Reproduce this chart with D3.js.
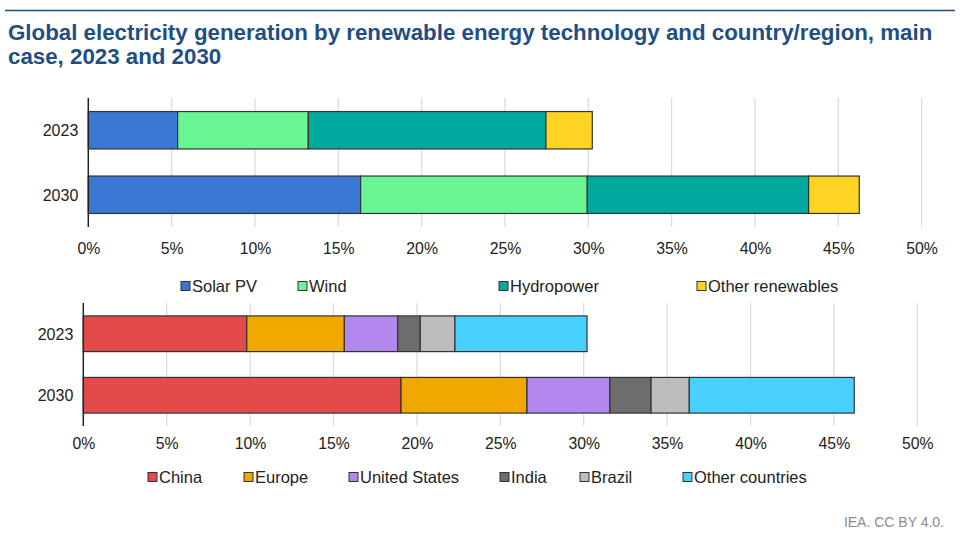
<!DOCTYPE html>
<html><head><meta charset="utf-8">
<script src="https://cdn.jsdelivr.net/npm/d3@7"></script>
<style>body{margin:0;background:#fff;}svg{display:block;font-family:"Liberation Sans",Arial,sans-serif;}</style>
</head><body><svg id="c" width="960" height="537"></svg>
<script>
const years = ["2023", "2030"];
const techSeries = ["Solar PV", "Wind", "Hydropower", "Other renewables"];
const techColors = ["#3a78d4", "#6af594", "#00a99d", "#fdd324"];
const techValues = {
  "Solar PV": [5.36, 16.34],
  "Wind": [7.84, 13.6],
  "Hydropower": [14.26, 13.28],
  "Other renewables": [2.78, 3.04]
};
const regionSeries = ["China", "Europe", "United States", "India", "Brazil", "Other countries"];
const regionColors = ["#e34a4a", "#f0a800", "#b287ee", "#6d6d6d", "#bdbdbd", "#48d1ff"];
const regionValues = {
  "China": [9.8, 19.05],
  "Europe": [5.85, 7.55],
  "United States": [3.2, 4.97],
  "India": [1.35, 2.47],
  "Brazil": [2.08, 2.29],
  "Other countries": [7.92, 9.89]
};
const xTicks = [0, 5, 10, 15, 20, 25, 30, 35, 40, 45, 50];

const svg = d3.select("#c");
svg.append("line").attr("x1", 5).attr("x2", 955).attr("y1", 10.5).attr("y2", 10.5)
  .attr("stroke", "#1f4e79").attr("stroke-width", 1.5);
const title = svg.append("text").attr("fill", "#1f4e85").attr("font-weight", "bold").attr("font-size", 22.3);
title.append("tspan").attr("x", 8).attr("y", 40).text("Global electricity generation by renewable energy technology and country/region, main");
title.append("tspan").attr("x", 8).attr("y", 64).text("case, 2023 and 2030");
svg.append("text").attr("x", 944).attr("y", 527).attr("text-anchor", "end").attr("font-size", 14)
  .attr("fill", "#8c8c8c").text("IEA. CC BY 4.0.");

function panel(cfg) {
  const x = d3.scaleLinear().domain([0, 50]).range([cfg.x0, cfg.x1]);
  const y = d3.scaleBand().domain(years).range([cfg.yTop, cfg.yBot]).paddingInner(0.42).paddingOuter(0.21);
  const g = svg.append("g");
  g.selectAll("line.grid").data(xTicks.slice(1)).join("line")
    .attr("x1", d => x(d)).attr("x2", d => x(d)).attr("y1", cfg.yTop).attr("y2", cfg.yBot)
    .attr("stroke", "#dcdcdc").attr("stroke-width", 1.3);
  const stacked = d3.stack().keys(cfg.series).value((d, k) => cfg.values[k][d])(years.map((_, i) => i));
  stacked.forEach((layer, li) => {
    g.selectAll(null).data(layer).join("rect")
      .attr("x", d => x(d[0])).attr("width", d => x(d[1]) - x(d[0]))
      .attr("y", (d, i) => y(years[i])).attr("height", y.bandwidth())
      .attr("fill", cfg.colors[li]).attr("stroke", "#333").attr("stroke-width", 1.2);
  });
  g.append("line").attr("x1", x(0)).attr("x2", x(0)).attr("y1", cfg.yTop).attr("y2", cfg.yBot)
    .attr("stroke", "#222").attr("stroke-width", 1.5);
  const ax = d3.axisBottom(x).tickValues(xTicks).tickFormat(d => d + "%").tickSize(0).tickPadding(0);
  const axg = g.append("g").attr("transform", `translate(0,${cfg.tickY})`).call(ax);
  axg.select(".domain").remove();
  axg.selectAll("text").attr("font-size", 15.8).attr("fill", "#222").attr("font-family", "Liberation Sans, Arial, sans-serif").attr("dy", 0);
  g.selectAll("text.ylab").data(years).join("text").attr("class", "ylab")
    .attr("x", cfg.x0 - 10).attr("y", d => y(d) + y.bandwidth() / 2 + 6)
    .attr("text-anchor", "end").attr("font-size", 16).attr("fill", "#222").text(d => d);
  cfg.series.forEach((s, i) => {
    const lx = cfg.legendX[i];
    g.append("rect").attr("x", lx).attr("y", cfg.legendY - 10.5).attr("width", 9).attr("height", 9)
      .attr("fill", cfg.colors[i]).attr("stroke", "#333").attr("stroke-width", 1);
    g.append("text").attr("x", lx + 11).attr("y", cfg.legendY).attr("font-size", 16.5).attr("fill", "#222").text(s);
  });
}

panel({x0: 88.3, x1: 921.6, yTop: 98, yBot: 227, tickY: 254, series: techSeries, colors: techColors,
  values: techValues, legendX: [181, 298, 499, 697], legendY: 292});
panel({x0: 83.3, x1: 917.3, yTop: 303, yBot: 426, tickY: 449, series: regionSeries, colors: regionColors,
  values: regionValues, legendX: [148, 244, 349, 500, 580, 683], legendY: 483});
</script></body></html>
